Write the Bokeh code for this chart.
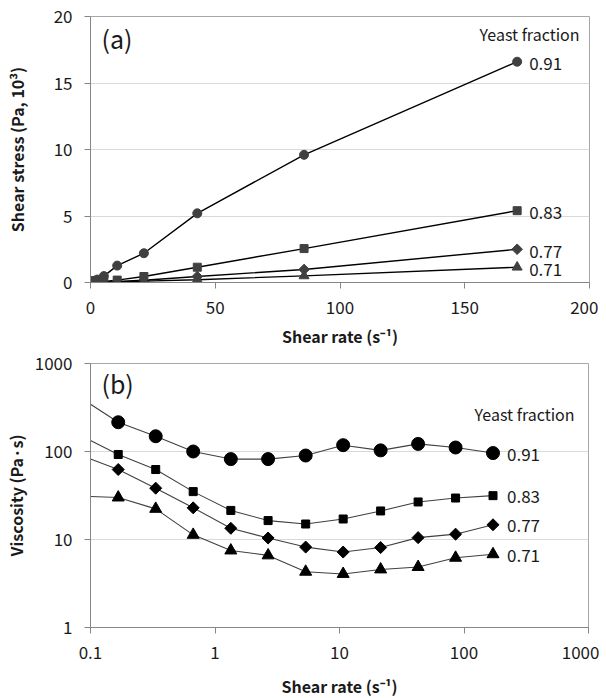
from bokeh.plotting import figure
from bokeh.layouts import column
from bokeh.models import FixedTicker, Label
from bokeh.embed import file_html
from bokeh.resources import INLINE
from bokeh.core.properties import value
import math

FONT = "Noto Sans CJK KR"

# ---- data ----
fractions = ["0.91", "0.83", "0.77", "0.71"]
rates = [0.167, 0.334, 0.668, 1.34, 2.67, 5.35, 10.7, 21.4, 42.8, 85.6, 171]

# panel (a): shear stress (Pa, 10^3)
stress_091 = [0.036, 0.05, 0.067, 0.11, 0.22, 0.48, 1.27, 2.2, 5.2, 9.6, 16.6]
stress_083 = [0.015, 0.021, 0.023, 0.029, 0.044, 0.08, 0.18, 0.45, 1.15, 2.55, 5.4]
stress_077 = [0.010, 0.013, 0.015, 0.018, 0.028, 0.044, 0.077, 0.17, 0.45, 0.98, 2.5]
stress_071 = [0.005, 0.0075, 0.0075, 0.01, 0.018, 0.023, 0.043, 0.1, 0.21, 0.5, 1.15]

# panel (b): viscosity (Pa·s)
visc_091 = [215, 149, 100, 82, 82, 90, 118, 103, 122, 111, 96]
visc_083 = [92.5, 62.4, 35, 21.4, 16.4, 15.0, 17.1, 21.1, 26.7, 29.6, 31.5]
visc_077 = [62.4, 38.3, 22.9, 13.4, 10.4, 8.2, 7.2, 8.1, 10.5, 11.5, 14.7]
visc_071 = [30, 22.3, 11.3, 7.5, 6.6, 4.3, 4.06, 4.57, 4.87, 6.2, 6.8]
# line values where the curves enter the plot at the left edge (rate 0.1)
edge_rate = 0.1
visc_edge = [345, 133, 82, 30.8]

ticks_a_x = [0, 50, 100, 150, 200]
ticks_a_y = [0, 5, 10, 15, 20]
ticks_b_x = [0.1, 1, 10, 100, 1000]
ticks_b_y = [1, 10, 100, 1000]

# marker kind, angle (diamond = rotated square)
markers = ["circle", "square", "square", "triangle"]
angles = [0, 0, math.pi / 4, 0]
size_a = [9, 8, 7.5, 10]
size_b = [13, 8, 8.5, 12]

stress = [stress_091, stress_083, stress_077, stress_071]
visc = [visc_091, visc_083, visc_077, visc_071]


def style_axes(p):
    for ax in (p.xaxis[0], p.yaxis[0]):
        ax.axis_line_color = "#868686"
        ax.major_tick_line_color = "#868686"
        ax.major_tick_out = 6
        ax.major_tick_in = 0
        ax.minor_tick_line_color = None
        ax.major_label_text_font = FONT
        ax.major_label_text_font_size = "17px"
        ax.major_label_text_color = "#1a1a1a"
        ax.major_label_standoff = 12
        ax.axis_label_text_font = FONT
        ax.axis_label_text_font_size = "16px"
        ax.axis_label_text_font_style = "bold"
        ax.axis_label_text_color = "#1a1a1a"
    p.outline_line_color = "#a6a6a6"
    p.xgrid.grid_line_color = None
    p.ygrid.grid_line_color = "#d9d9d9"


# ---- panel (a) ----
pa = figure(width=590, height=351, frame_width=499, frame_height=266,
            x_range=(0, 200), y_range=(0, 20),
            output_backend="svg", toolbar_location=None,
            min_border_left=81, min_border_right=10, min_border_top=16, min_border_bottom=69)
pa.xaxis.ticker = FixedTicker(ticks=ticks_a_x, minor_ticks=[])
pa.yaxis.ticker = FixedTicker(ticks=ticks_a_y, minor_ticks=[])
pa.ygrid.ticker = FixedTicker(ticks=[5, 10, 15])
pa.xaxis.axis_label = "Shear rate (s⁻¹)"
pa.yaxis.axis_label = "Shear stress (Pa, 10³)"
style_axes(pa)
pa.xaxis.axis_label_standoff = 7
pa.yaxis.axis_label_standoff = 22

for ys, mk, ang, sz in zip(stress, markers, angles, size_a):
    pa.line(rates, ys, line_color="black", line_width=1.4)
    pa.scatter(rates, ys, marker=mk, angle=ang, size=sz,
               fill_color="#404040", line_color="#404040")

pa.text(x=[rates[-1]] * 4, y=[s[-1] for s in stress], text=fractions,
        x_offset=12, y_offset=2, text_baseline="middle", text_align="left",
        text_font=value(FONT), text_font_size="17px", text_color="#1a1a1a")
pa.add_layout(Label(x=196, y=18.7, text="Yeast fraction", text_align="right",
                    text_baseline="middle", text_font=FONT, text_font_size="16px",
                    text_color="#1a1a1a"))
pa.add_layout(Label(x=4.4, y=18.4, text="(a)", text_align="left",
                    text_baseline="middle", text_font=FONT, text_font_size="25px",
                    text_color="#1a1a1a"))

# ---- panel (b) ----
pb = figure(width=590, height=340, frame_width=498, frame_height=264,
            x_range=(0.1, 1000), y_range=(1, 1000),
            x_axis_type="log", y_axis_type="log",
            output_backend="svg", toolbar_location=None,
            min_border_left=81, min_border_right=11, min_border_top=12, min_border_bottom=64)
pb.xaxis.ticker = FixedTicker(ticks=ticks_b_x, minor_ticks=[])
pb.yaxis.ticker = FixedTicker(ticks=ticks_b_y, minor_ticks=[])
pb.ygrid.ticker = FixedTicker(ticks=[10, 100])
pb.xaxis.major_label_overrides = {0.1: "0.1", 1: "1", 10: "10", 100: "100", 1000: "1000"}
pb.yaxis.major_label_overrides = {1: "1", 10: "10", 100: "100", 1000: "1000"}
pb.xaxis.axis_label = "Shear rate (s⁻¹)"
pb.yaxis.axis_label = "Viscosity (Pa·s)"
style_axes(pb)
pb.xaxis.axis_label_standoff = 12
pb.yaxis.axis_label_standoff = 4

for ys, e, mk, ang, sz in zip(visc, visc_edge, markers, angles, size_b):
    pb.line([edge_rate] + rates, [e] + ys, line_color="#404040", line_width=1.1)
    pb.scatter(rates, ys, marker=mk, angle=ang, size=sz,
               fill_color="black", line_color="black")

pb.text(x=[rates[-1]] * 4, y=[v[-1] for v in visc], text=fractions,
        x_offset=14, y_offset=1, text_baseline="middle", text_align="left",
        text_font=value(FONT), text_font_size="17px", text_color="#1a1a1a")
pb.add_layout(Label(x=773, y=270, text="Yeast fraction", text_align="right",
                    text_baseline="middle", text_font=FONT, text_font_size="16px",
                    text_color="#1a1a1a"))
pb.add_layout(Label(x=0.1225, y=608, text="(b)", text_align="left",
                    text_baseline="middle", text_font=FONT, text_font_size="25px",
                    text_color="#1a1a1a"))

layout = column(pa, pb, spacing=0)
open("out.html", "w").write(file_html(layout, INLINE))
